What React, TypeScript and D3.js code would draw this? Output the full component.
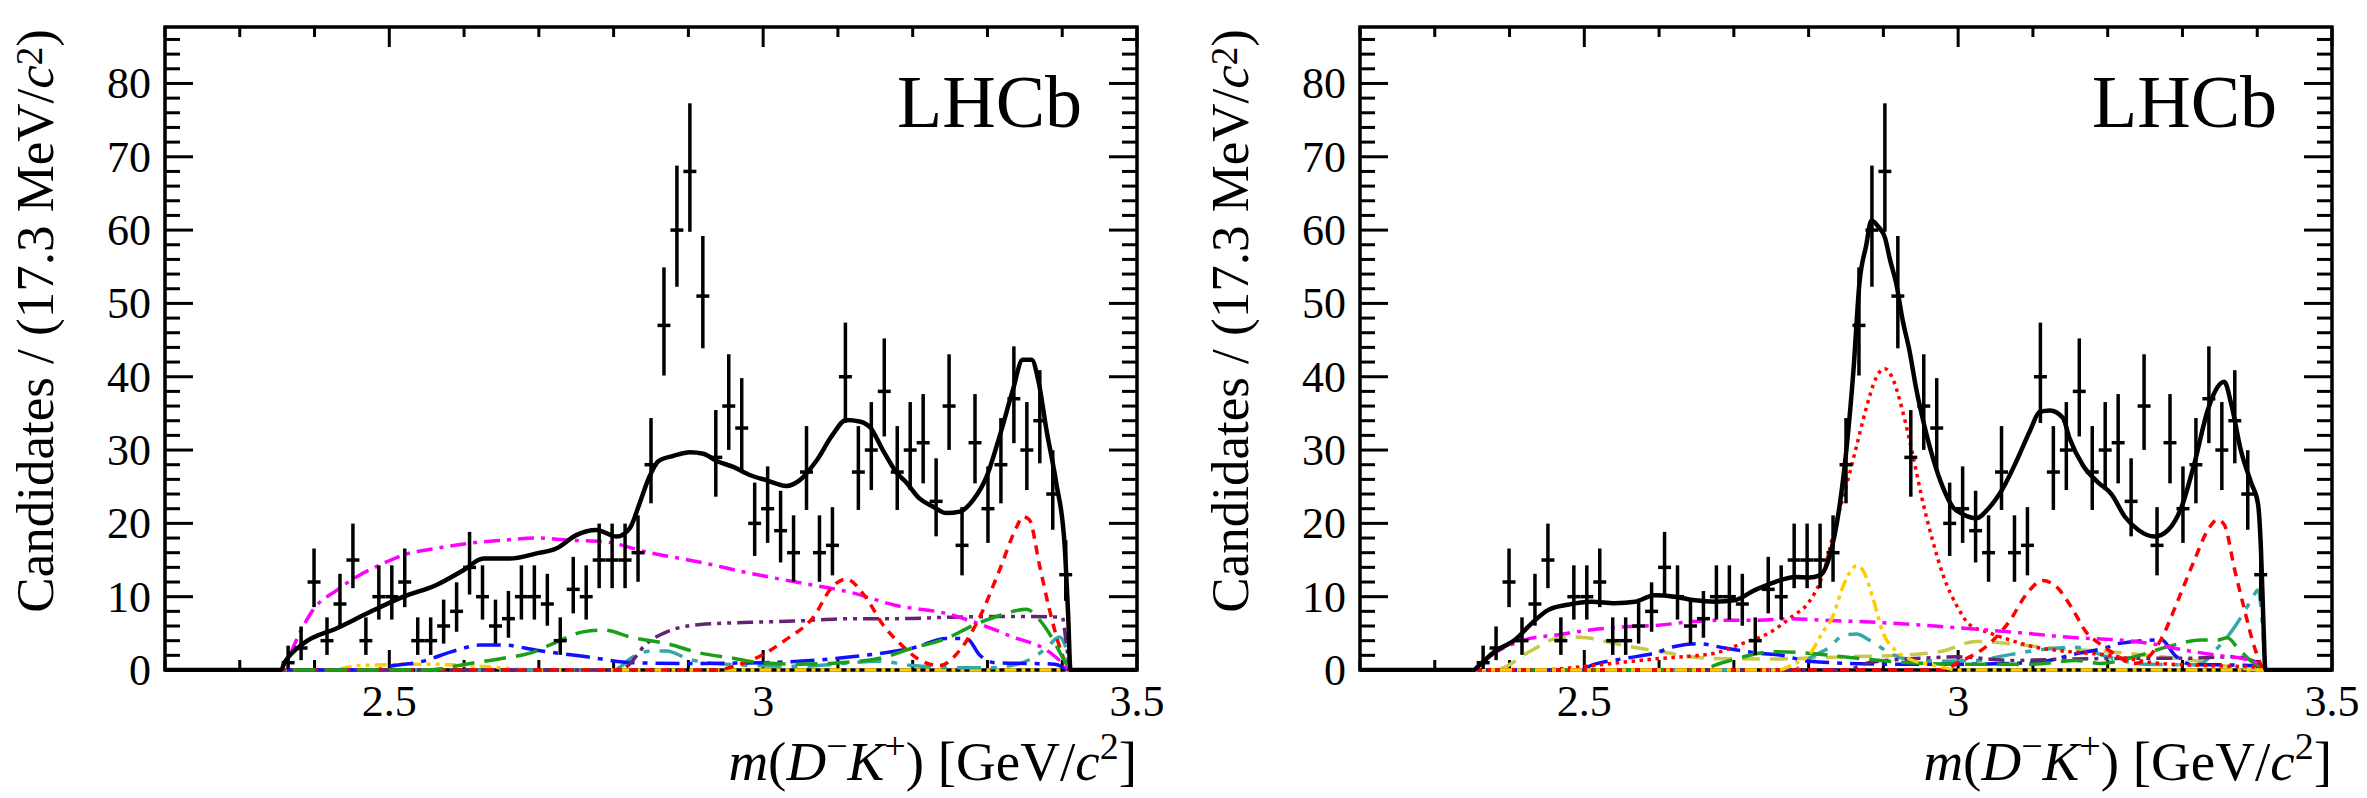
import * as d3 from "d3";

// canvas and frame geometry (pixels)
const W = 2367;
const H = 798;
const FRAME_W = 972;
const FRAME_TOP = 27;
const FRAME_BOTTOM = 670;
const PANEL_LEFTS = [165, 1360];

const X_DOMAIN: [number, number] = [2.2, 3.5];
const Y_DOMAIN: [number, number] = [0, 87.7];

// binning: 75 bins of 17.3 MeV between 2.2 and 3.5 GeV, data start at bin 9
const BIN_W = 1.3 / 75;
const FIRST_BIN = 9;

// candidates per bin (same data in both panels)
const counts = [
  1, 3, 12, 4, 9, 15, 4, 10, 10, 12,
  4, 4, 6, 8, 14, 10, 6, 7, 10, 10,
  9, 4, 11, 10, 15, 15, 15, 16, 28, 47,
  60, 68, 51, 29, 36, 33, 20, 22, 19, 16,
  27, 16, 17, 40, 27, 30, 38, 27, 30, 31,
  23, 36, 17, 31, 22, 28, 37, 30, 34, 24,
  13,
];

const xMajor = [2.5, 3, 3.5];
const xMajorLabels = ["2.5", "3", "3.5"];
const yMajor = [0, 10, 20, 30, 40, 50, 60, 70, 80];

type Pt = [number, number];

// ---- left panel fit ----
const totalA: Pt[] = [[2.2,0],[2.355,0],[2.36,1.0],[2.385,3.6],[2.43,5.7],[2.474,7.9],[2.519,10.0],[2.563,11.6],[2.599,13.6],[2.626,15.2],[2.661,15.2],[2.697,15.9],[2.724,16.6],[2.75,18.4],[2.777,19.1],[2.804,18.2],[2.822,19.4],[2.835,22.8],[2.848,26.4],[2.86,28.5],[2.88,29.2],[2.902,29.7],[2.92,29.5],[2.938,28.5],[2.96,27.7],[2.982,26.6],[3.004,25.9],[3.031,25.1],[3.049,25.9],[3.071,28.5],[3.093,32.1],[3.111,34.1],[3.129,33.9],[3.143,33.1],[3.16,30.0],[3.178,27.0],[3.192,25.5],[3.209,23.4],[3.227,22.3],[3.245,21.4],[3.263,21.6],[3.281,23.2],[3.299,26.4],[3.316,31.8],[3.334,38.2],[3.347,42.3],[3.359,42.3],[3.368,39.5],[3.379,32.7],[3.392,25.5],[3.403,17.3],[3.408,7.3],[3.411,0],[3.5,0]];
const magentaA: Pt[] = [[2.2,0],[2.358,0],[2.363,1.1],[2.38,5.0],[2.398,8.2],[2.43,10.9],[2.456,12.7],[2.487,14.3],[2.519,15.7],[2.563,16.6],[2.608,17.3],[2.652,17.7],[2.697,18.0],[2.741,17.7],[2.786,17.5],[2.848,16.0],[2.916,14.7],[2.982,13.2],[3.049,11.9],[3.116,10.6],[3.178,8.8],[3.245,7.7],[3.286,6.4],[3.334,4.5],[3.379,2.7],[3.4,1.0],[3.411,0],[3.5,0]];
const redDashA: Pt[] = [[2.2,0],[2.94,0],[2.96,0.5],[2.99,1.6],[3.03,4.1],[3.067,7.2],[3.093,11.4],[3.111,12.4],[3.138,9.8],[3.16,6.2],[3.183,3.6],[3.209,1.4],[3.236,0.6],[3.263,2.7],[3.29,7.3],[3.316,13.6],[3.339,19.5],[3.347,20.9],[3.356,20.5],[3.37,14.1],[3.383,8.2],[3.398,2.7],[3.411,0],[3.5,0]];
const greenA: Pt[] = [[2.2,0],[2.55,0],[2.608,0.9],[2.652,1.6],[2.688,2.3],[2.719,3.6],[2.759,5.2],[2.786,5.45],[2.826,4.4],[2.871,3.6],[2.916,2.3],[2.96,1.6],[2.995,1.0],[3.049,0.8],[3.102,1.0],[3.156,1.6],[3.2,3.0],[3.245,4.3],[3.281,6.1],[3.312,7.3],[3.334,8.0],[3.352,8.3],[3.37,6.8],[3.388,4.1],[3.405,0.9],[3.411,0],[3.5,0]];
const purpleA: Pt[] = [[2.2,0],[2.81,0],[2.818,0.5],[2.844,3.6],[2.871,5.2],[2.916,6.2],[2.982,6.5],[3.049,6.7],[3.116,7.0],[3.178,7.0],[3.25,7.2],[3.33,7.3],[3.4,7.2],[3.405,4.0],[3.411,0],[3.5,0]];
const blueA: Pt[] = [[2.2,0],[2.48,0],[2.501,0.5],[2.541,1.1],[2.59,2.7],[2.621,3.4],[2.652,3.4],[2.697,2.7],[2.764,1.8],[2.826,1.0],[2.9,0.9],[3.0,1.0],[3.1,1.6],[3.178,2.6],[3.2,3.0],[3.245,4.3],[3.272,4.3],[3.29,2.0],[3.31,1.0],[3.39,0.8],[3.411,0],[3.5,0]];
const cyanA: Pt[] = [[2.2,0],[2.8,0],[2.826,1.8],[2.85,2.6],[2.871,2.6],[2.9,1.5],[2.95,0.8],[3.05,0.5],[3.156,1.2],[3.2,0.6],[3.26,0.3],[3.3,0.3],[3.325,0.5],[3.356,1.4],[3.379,3.0],[3.396,4.5],[3.405,3.0],[3.411,0],[3.5,0]];
const yellowA: Pt[] = [[2.2,0],[2.42,0],[2.46,0.6],[2.55,0.8],[2.62,0.5],[2.7,0],[3.5,0]];

// ---- right panel fit ----
const totalB: Pt[] = [[2.2,0],[2.352,0],[2.358,0.5],[2.38,2.5],[2.407,4.1],[2.43,6.4],[2.452,8.2],[2.478,8.9],[2.51,9.3],[2.541,9.1],[2.568,9.3],[2.594,10.2],[2.621,10.0],[2.648,9.5],[2.675,9.3],[2.701,9.5],[2.728,10.9],[2.755,12.0],[2.782,12.7],[2.801,12.6],[2.815,12.9],[2.828,15.5],[2.842,22.8],[2.851,30.5],[2.86,40.9],[2.868,52.8],[2.877,57.9],[2.884,61.3],[2.893,60.5],[2.902,59.0],[2.909,55.9],[2.917,52.8],[2.926,47.6],[2.935,43.5],[2.944,38.3],[2.953,34.1],[2.966,29.0],[2.98,24.8],[2.993,22.2],[3.007,21.2],[3.024,20.7],[3.042,22.2],[3.06,24.8],[3.078,28.5],[3.096,32.6],[3.109,35.2],[3.123,35.4],[3.14,34.4],[3.149,31.6],[3.167,27.9],[3.187,25.6],[3.205,24.0],[3.223,20.9],[3.241,19.1],[3.263,18.2],[3.281,19.1],[3.299,22.3],[3.316,28.2],[3.334,35.5],[3.347,38.6],[3.356,39.3],[3.365,36.4],[3.378,30.0],[3.392,25.5],[3.401,22.7],[3.405,16.4],[3.408,7.3],[3.411,0],[3.5,0]];
const redDotB: Pt[] = [[2.2,0],[2.44,0],[2.501,0.5],[2.555,1.1],[2.604,1.6],[2.644,1.9],[2.675,2.3],[2.711,3.6],[2.746,5.0],[2.778,7.3],[2.8,9.2],[2.819,13.0],[2.837,20.2],[2.851,25.3],[2.864,30.5],[2.877,35.7],[2.89,39.8],[2.902,41.1],[2.913,39.6],[2.926,35.2],[2.94,29.0],[2.953,22.8],[2.966,17.6],[2.98,12.9],[2.998,8.8],[3.015,6.2],[3.038,5.2],[3.069,4.1],[3.104,3.1],[3.14,2.6],[3.203,2.0],[3.26,1.0],[3.33,0.6],[3.4,0.4],[3.411,0],[3.5,0]];
const redDashB: Pt[] = [[2.2,0],[2.98,0],[3.0,1.0],[3.042,3.6],[3.069,6.7],[3.091,10.3],[3.113,12.2],[3.131,11.4],[3.153,8.3],[3.171,5.2],[3.189,3.6],[3.203,2.6],[3.236,0.9],[3.255,1.8],[3.272,4.3],[3.294,9.5],[3.316,15.0],[3.334,19.1],[3.347,20.5],[3.356,19.8],[3.37,13.6],[3.383,8.2],[3.396,3.2],[3.411,0],[3.5,0]];
const yellowB: Pt[] = [[2.2,0],[2.76,0],[2.78,0.8],[2.801,2.1],[2.819,5.2],[2.832,7.2],[2.846,11.4],[2.864,14.2],[2.872,13.7],[2.886,9.8],[2.899,5.2],[2.917,2.6],[2.935,1.5],[2.97,0.6],[3.0,0],[3.5,0]];
const oliveB: Pt[] = [[2.2,0],[2.38,0],[2.43,2.7],[2.462,4.3],[2.488,4.5],[2.51,4.3],[2.541,3.6],[2.572,3.0],[2.604,2.5],[2.63,2.0],[2.666,1.6],[2.75,1.5],[2.85,1.8],[2.935,2.1],[2.98,2.6],[3.024,3.9],[3.069,3.6],[3.113,3.1],[3.2,2.5],[3.3,1.5],[3.411,0],[3.5,0]];
const magentaB: Pt[] = [[2.2,0],[2.352,0],[2.38,2.3],[2.42,4.1],[2.465,4.8],[2.51,5.5],[2.555,5.9],[2.599,6.1],[2.644,6.6],[2.688,6.8],[2.733,6.8],[2.777,7.0],[2.818,6.8],[2.89,6.5],[2.98,5.9],[3.069,5.2],[3.158,4.4],[3.214,4.1],[3.258,3.6],[3.303,2.7],[3.347,2.0],[3.383,1.5],[3.4,0.9],[3.411,0],[3.5,0]];
const cyanB: Pt[] = [[2.2,0],[2.78,0],[2.801,1.6],[2.828,3.1],[2.846,4.7],[2.864,4.9],[2.881,4.1],[2.904,2.6],[2.926,1.6],[2.98,1.2],[3.024,1.3],[3.069,2.1],[3.113,2.8],[3.158,3.1],[3.2,1.8],[3.25,0.8],[3.32,0.7],[3.347,3.0],[3.37,5.9],[3.392,9.5],[3.401,10.9],[3.408,4.8],[3.411,0],[3.5,0]];
const greenB: Pt[] = [[2.2,0],[2.65,0],[2.688,1.1],[2.755,2.5],[2.8,2.3],[2.846,1.8],[2.935,1.0],[3.0,0.8],[3.1,0.8],[3.158,1.3],[3.19,0.9],[3.236,1.8],[3.281,3.2],[3.325,4.1],[3.347,4.1],[3.36,4.4],[3.374,3.0],[3.392,1.2],[3.405,0.3],[3.411,0],[3.5,0]];
const blueB: Pt[] = [[2.2,0],[2.49,0],[2.514,0.8],[2.555,1.6],[2.594,2.3],[2.621,3.2],[2.652,3.6],[2.688,3.0],[2.733,2.3],[2.764,2.0],[2.8,1.2],[2.9,0.8],[3.0,0.8],[3.1,1.0],[3.162,2.3],[3.2,3.1],[3.214,3.6],[3.272,4.1],[3.29,2.0],[3.31,0.8],[3.4,0.6],[3.411,0],[3.5,0]];
const purpleB: Pt[] = [[2.2,0],[2.85,0],[2.88,1.0],[2.95,1.6],[3.0,1.8],[3.069,1.3],[3.15,1.5],[3.258,1.6],[3.303,1.6],[3.37,1.8],[3.4,1.0],[3.411,0],[3.5,0]];

interface Curve {
  pts: Pt[];
  color: string;
  dash: string;
  width: number;
}

const C = {
  magenta: "#ff00ff",
  red: "#ff0000",
  green: "#18a018",
  purple: "#662277",
  blue: "#1010ff",
  cyan: "#33a8a8",
  yellow: "#ffcc00",
  olive: "#c8c84a",
};

const curvesA: Curve[] = [
  { pts: yellowA, color: C.yellow, dash: "12 5 4 5 4 5", width: 3.5 },
  { pts: cyanA, color: C.cyan, dash: "24 10 6 10", width: 3.5 },
  { pts: blueA, color: C.blue, dash: "24 8 5 8", width: 3.5 },
  { pts: purpleA, color: C.purple, dash: "16 6 4 6 4 6", width: 3.5 },
  { pts: magentaA, color: C.magenta, dash: "16 7 4 7", width: 3.5 },
  { pts: redDashA, color: C.red, dash: "9 7", width: 3.5 },
  { pts: greenA, color: C.green, dash: "22 10", width: 3.5 },
  { pts: totalA, color: "#000", dash: "", width: 4.5 },
];

const curvesB: Curve[] = [
  { pts: oliveB, color: C.olive, dash: "18 10", width: 3.5 },
  { pts: cyanB, color: C.cyan, dash: "24 10 6 10", width: 3.5 },
  { pts: blueB, color: C.blue, dash: "24 8 5 8", width: 3.5 },
  { pts: purpleB, color: C.purple, dash: "16 6 4 6 4 6", width: 3.5 },
  { pts: greenB, color: C.green, dash: "22 10", width: 3.5 },
  { pts: redDashB, color: C.red, dash: "9 7", width: 3.5 },
  { pts: redDotB, color: C.red, dash: "3.5 4.5", width: 3.5 },
  { pts: magentaB, color: C.magenta, dash: "16 7 4 7", width: 3.5 },
  { pts: yellowB, color: C.yellow, dash: "12 5 4 5 4 5", width: 3.5 },
  { pts: totalB, color: "#000", dash: "", width: 4.5 },
];

const FONT = "'Liberation Serif', 'Times New Roman', serif";

// approximate Poisson (Garwood) interval used by the data points
function poisson(n: number): [number, number] {
  const lo = n > 0 ? n - Math.sqrt(n - 0.25) : 0;
  const hi = n + 1 + Math.sqrt(n + 0.75);
  return [lo, hi];
}

function Panel({ left, curves, id }: { left: number; curves: Curve[]; id: string }) {
  const x0 = left;
  const x1 = left + FRAME_W;
  const x = d3.scaleLinear().domain(X_DOMAIN).range([x0, x1]);
  const y = d3.scaleLinear().domain(Y_DOMAIN).range([FRAME_BOTTOM, FRAME_TOP]);
  const line = d3
    .line<Pt>()
    .x((d) => x(d[0]))
    .y((d) => y(d[1]))
    .curve(d3.curveMonotoneX);

  const xTicks = d3.range(22, 36).map((i) => ({ v: i / 10, major: i % 5 === 0 }));
  const yTicks = d3.range(0, 44).map((i) => ({ v: i * 2, major: (i * 2) % 10 === 0 }));

  const points = counts.map((n, i) => {
    const c = X_DOMAIN[0] + (FIRST_BIN + i + 0.5) * BIN_W;
    const [lo, hi] = poisson(n);
    return { c, n, lo, hi };
  });

  return (
    <g>
      <defs>
        <clipPath id={id}>
          <rect x={x0} y={FRAME_TOP} width={FRAME_W} height={FRAME_BOTTOM - FRAME_TOP + 2} />
        </clipPath>
      </defs>
      {/* ticks */}
      <g stroke="#000" strokeWidth={3}>
        {xTicks.map((t, i) => {
          const len = t.major ? 20 : 10;
          return (
            <g key={i}>
              <line x1={x(t.v)} x2={x(t.v)} y1={FRAME_BOTTOM} y2={FRAME_BOTTOM - len} />
              <line x1={x(t.v)} x2={x(t.v)} y1={FRAME_TOP} y2={FRAME_TOP + len} />
            </g>
          );
        })}
        {yTicks.map((t, i) => {
          const len = t.major ? 28 : 15;
          return (
            <g key={i}>
              <line x1={x0} x2={x0 + len} y1={y(t.v)} y2={y(t.v)} />
              <line x1={x1} x2={x1 - len} y1={y(t.v)} y2={y(t.v)} />
            </g>
          );
        })}
      </g>
      <rect
        x={x0}
        y={FRAME_TOP}
        width={FRAME_W}
        height={FRAME_BOTTOM - FRAME_TOP}
        fill="none"
        stroke="#000"
        strokeWidth={3.5}
      />
      <g clipPath={`url(#${id})`}>
        {curves.map((cv, i) => (
          <path
            key={i}
            d={line(cv.pts) ?? ""}
            fill="none"
            stroke={cv.color}
            strokeWidth={cv.width}
            strokeDasharray={cv.dash || undefined}
            strokeLinejoin="round"
          />
        ))}
        {points.map((p, i) => (
          <g key={i} stroke="#000" strokeWidth={3.5}>
            <line x1={x(p.c)} x2={x(p.c)} y1={y(p.lo)} y2={y(p.hi)} />
            <line x1={x(p.c - BIN_W / 2)} x2={x(p.c + BIN_W / 2)} y1={y(p.n)} y2={y(p.n)} />
          </g>
        ))}
      </g>
      {/* tick labels */}
      <g fontFamily={FONT} fontSize={44} fill="#000">
        {xMajor.map((v, i) => (
          <text key={i} x={x(v)} y={716} textAnchor="middle">
            {xMajorLabels[i]}
          </text>
        ))}
        {yMajor.map((v) => (
          <text key={v} x={x0 - 14} y={y(v) + 15} textAnchor="end">
            {v}
          </text>
        ))}
      </g>
      {/* axis titles */}
      <text
        fontFamily={FONT}
        fontSize={53}
        textAnchor="end"
        transform={`translate(${x0 - 112},${FRAME_TOP + 2}) rotate(-90)`}
      >
        Candidates / (17.3 MeV/<tspan fontStyle="italic">c</tspan>
        <tspan baselineShift="30%" fontSize={37}>2</tspan>)
      </text>
      <text fontFamily={FONT} fontSize={55} x={x1} y={780} textAnchor="end">
        <tspan fontStyle="italic">m</tspan>(<tspan fontStyle="italic">D</tspan>
        <tspan baselineShift="super" fontSize={38}>−</tspan>
        <tspan fontStyle="italic">K</tspan>
        <tspan baselineShift="super" fontSize={38}>+</tspan>) [GeV/
        <tspan fontStyle="italic">c</tspan>
        <tspan baselineShift="super" fontSize={38}>2</tspan>]
      </text>
      <text fontFamily={FONT} fontSize={74} x={x1 - 55} y={127} textAnchor="end">
        LHCb
      </text>
    </g>
  );
}

export default function App() {
  return (
    <svg
      width={W}
      height={H}
      viewBox={`0 0 ${W} ${H}`}
      style={{ position: "absolute", left: 0, top: 0, background: "#fff" }}
    >
      <rect width={W} height={H} fill="#fff" />
      <Panel left={PANEL_LEFTS[0]} curves={curvesA} id="clipA" />
      <Panel left={PANEL_LEFTS[1]} curves={curvesB} id="clipB" />
    </svg>
  );
}
